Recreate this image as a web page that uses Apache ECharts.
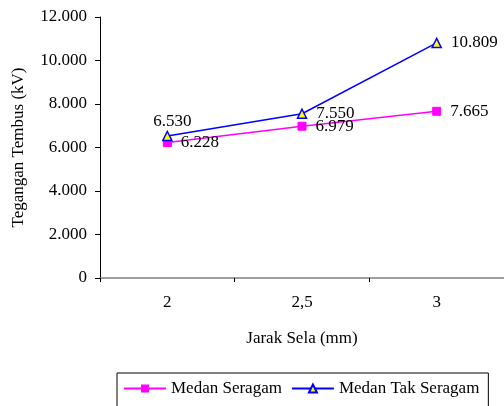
<!DOCTYPE html>
<html>
<head>
<meta charset="utf-8">
<script src="https://cdn.jsdelivr.net/npm/echarts@6/dist/echarts.min.js"></script>
<style>
html,body{margin:0;padding:0;background:#fff;}
#chart{width:504px;height:406px;}
</style>
</head>
<body>
<div id="chart"></div>
<script>
const categories = ['2', '2,5', '3'];
const medanSeragam = [6228, 6979, 7665];
const medanTakSeragam = [6530, 7550, 10809];
const yTicks = [0, 2000, 4000, 6000, 8000, 10000, 12000];

const FONT = '"Liberation Serif", "Times New Roman", serif';
const fmt = v => v === 0 ? '0' : (v / 1000).toFixed(3);

const chart = echarts.init(document.getElementById('chart'), null, {renderer: 'canvas'});
chart.setOption({
  animation: false,
  backgroundColor: '#fff',
  textStyle: {fontFamily: FONT, color: '#000'},
  grid: {left: 100, top: 17, width: 405, bottom: 128},
  xAxis: {
    type: 'category',
    data: categories,
    boundaryGap: true,
    name: 'Jarak Sela (mm)',
    nameLocation: 'middle',
    nameGap: 52,
    nameTextStyle: {fontFamily: FONT, fontSize: 17, color: '#000'},
    axisLine: {lineStyle: {color: '#808080', width: 1.5}},
    axisTick: {show: true, length: 4, inside: false, lineStyle: {color: '#000'}},
    axisLabel: {fontFamily: FONT, fontSize: 17, color: '#000', margin: 16},
    splitLine: {show: false}
  },
  yAxis: {
    type: 'value',
    min: yTicks[0],
    max: yTicks[yTicks.length - 1],
    interval: 2000,
    name: 'Tegangan Tembus (kV)',
    nameLocation: 'middle',
    nameGap: 73,
    nameTextStyle: {fontFamily: FONT, fontSize: 17, color: '#000'},
    axisLine: {show: true, lineStyle: {color: '#000', width: 1}},
    axisTick: {show: true, length: 5, inside: false, lineStyle: {color: '#000'}},
    axisLabel: {fontFamily: FONT, fontSize: 17, color: '#000', margin: 13, formatter: fmt},
    splitLine: {show: false}
  },
  legend: {
    left: 117,
    top: 373,
    padding: [7, 9, 20, 6],
    itemWidth: 42,
    itemHeight: 10,
    itemGap: 9,
    borderColor: '#000',
    borderWidth: 1,
    textStyle: {fontFamily: FONT, fontSize: 17, color: '#000'},
    data: ['Medan Seragam', 'Medan Tak Seragam']
  },
  series: [
    {
      name: 'Medan Seragam',
      type: 'line',
      data: medanSeragam,
      symbol: 'rect',
      symbolSize: 8,
      lineStyle: {color: '#FF00FF', width: 1.5},
      itemStyle: {color: '#FF00FF', borderColor: '#FF00FF'},
      label: {
        show: true, position: 'right', distance: 9,
        fontFamily: FONT, fontSize: 17, color: '#000',
        formatter: p => fmt(p.value)
      }
    },
    {
      name: 'Medan Tak Seragam',
      type: 'line',
      data: medanTakSeragam.map((v, i) => i === 0
        ? {value: v, label: {position: 'top', distance: 1, offset: [5, 0]}}
        : {value: v}),
      symbol: 'triangle',
      symbolSize: 9,
      lineStyle: {color: '#0000FF', width: 1.5},
      itemStyle: {color: '#FFFF00', borderColor: '#0000FF', borderWidth: 1.5},
      label: {
        show: true, position: 'right', distance: 9,
        fontFamily: FONT, fontSize: 17, color: '#000',
        formatter: p => fmt(p.value)
      }
    }
  ]
});
</script>
</body>
</html>
